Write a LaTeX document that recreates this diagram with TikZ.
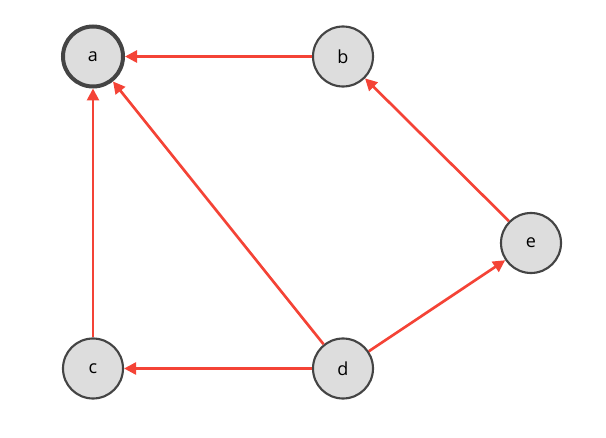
\documentclass[tikz,border=0pt]{standalone}
\usepackage{fontspec}
\setmainfont{Open Sans}
\usetikzlibrary{arrows.meta}
\definecolor{nodefill}{HTML}{DDDDDD}
\definecolor{nodedraw}{HTML}{444444}
\definecolor{edgered}{HTML}{F44336}
\begin{document}
\begin{tikzpicture}[x=0.75pt,y=-0.75pt,
  vert/.style={circle,minimum size=60*0.75pt,inner sep=0pt,fill=nodefill,draw=nodedraw,line width=1.6pt,font=\fontsize{13.5}{16}\selectfont},
  vertroot/.style={vert,line width=3pt},
  edge/.style={draw=edgered,line width=2pt,-{Triangle[length=9pt,width=9pt]}}]
\useasboundingbox (0,0) rectangle (606,438);
\node[vertroot] (a) at (93,56.5) {a};
\node[vert] (b) at (343,56.5) {b};
\node[vert] (c) at (93,368.5) {c};
\node[vert] (d) at (343,368.5) {d};
\node[vert] (e) at (531,243) {e};
\draw[edge] (b) -- (a);
\draw[edge] (e) -- (b);
\draw[edge] (d) -- (a);
\draw[edge] (c) -- (a);
\draw[edge] (d) -- (c);
\draw[edge] (d) -- (e);
\end{tikzpicture}
\end{document}
